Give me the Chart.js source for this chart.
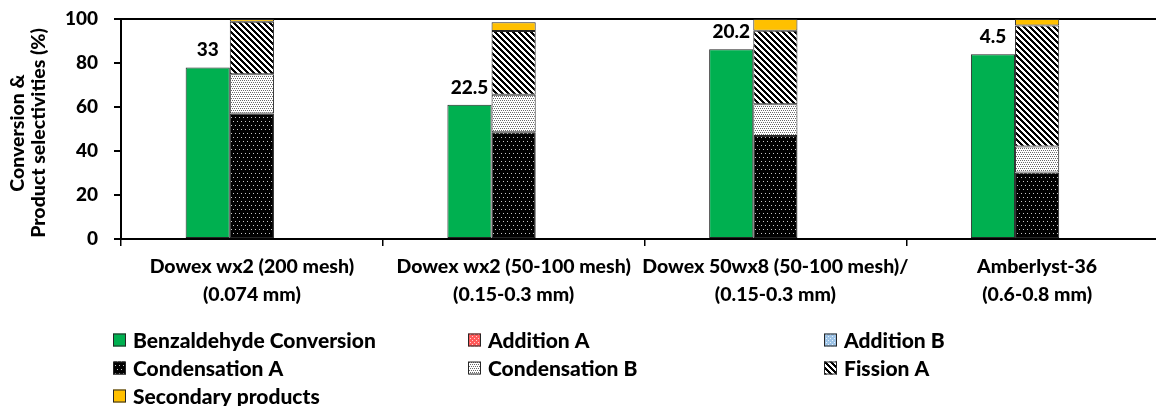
<!DOCTYPE html>
<html>
<head>
<meta charset="utf-8">
<script src="https://cdn.jsdelivr.net/npm/chart.js@4/dist/chart.umd.min.js"></script>
<style>
  html, body { margin: 0; padding: 0; background: #fff; overflow: hidden; }
  #wrap { position: relative; width: 1168px; height: 406px; }
</style>
</head>
<body>
<div id="wrap"><canvas id="chart"></canvas></div>
<script>
// Catalysts (two-line axis labels)
const categories = [
  ['Dowex wx2 (200 mesh)', '(0.074 mm)'],
  ['Dowex wx2 (50-100 mesh)', '(0.15-0.3 mm)'],
  ['Dowex 50wx8 (50-100 mesh)/', '(0.15-0.3 mm)'],
  ['Amberlyst-36', '(0.6-0.8 mm)']
];

// Benzaldehyde conversion (%)
const conversion = [78, 61, 86.2, 84];
// Product selectivities (%)
const additionA = [0, 0, 0, 0];
const additionB = [0, 0, 0, 0];
const condensationA = [57.1, 48.5, 46.8, 30.2];
const condensationB = [17.8, 17.1, 14.4, 11.8];
const fissionA = [23.9, 28.9, 33.5, 55];
const secondary = [1.2, 4.0, 5.3, 3.0];

// Values printed above the conversion bars
const conversionNotes = ['33', '22.5', '20.2', '4.5'];

const yTicks = [0, 20, 40, 60, 80, 100];
const yTitle = ['Conversion &', 'Product selectivities (%)'];

const FONT = 'Lato, "Open Sans", sans-serif';
const WEIGHT = '900';

// ---- fill patterns ----
function makePattern(size, painter) {
  const c = document.createElement('canvas');
  c.width = size; c.height = size;
  const g = c.getContext('2d');
  painter(g, size);
  return g.createPattern(c, 'repeat');
}
const patCondA = makePattern(8, (g, s) => {
  g.fillStyle = '#000'; g.fillRect(0, 0, s, s);
  g.fillStyle = '#c8c8c8';
  [[1, 1], [5, 1], [3, 5], [7, 5]].forEach(([x, y]) => g.fillRect(x, y, 1, 1));
});
const patCondB = makePattern(4, (g, s) => {
  g.fillStyle = '#fff'; g.fillRect(0, 0, s, s);
  g.fillStyle = '#6a6a6a';
  [[0, 0], [2, 0], [1, 2], [3, 2]].forEach(([x, y]) => g.fillRect(x, y, 1, 1));
});
const patFission = makePattern(6, (g, s) => {
  g.fillStyle = '#fff'; g.fillRect(0, 0, s, s);
  g.fillStyle = '#000';
  for (let y = 0; y < s; y++) for (let x = 0; x < s; x++) {
    if (((x - y) % s + s) % s < 3) g.fillRect(x, y, 1, 1);
  }
});
const patAddA = makePattern(4, (g, s) => {
  g.fillStyle = '#ff5a5a'; g.fillRect(0, 0, s, s);
  g.fillStyle = '#ffd0d0';
  [[0, 0], [2, 2]].forEach(([x, y]) => g.fillRect(x, y, 1, 1));
});
const patAddB = makePattern(4, (g, s) => {
  g.fillStyle = '#9dc3e6'; g.fillRect(0, 0, s, s);
  g.fillStyle = '#e6f0fa';
  [[0, 0], [2, 2]].forEach(([x, y]) => g.fillRect(x, y, 1, 1));
});

const EDGE = '#262626';
function barSet(label, data, fill, stack) {
  return { label, data, backgroundColor: fill, borderColor: EDGE, borderWidth: 1,
           borderSkipped: false, stack };
}

const datasets = [
  barSet('Benzaldehyde Conversion', conversion, '#00b050', 'conv'),
  barSet('Addition A', additionA, patAddA, 'sel'),
  barSet('Addition B', additionB, patAddB, 'sel'),
  barSet('Condensation A', condensationA, patCondA, 'sel'),
  barSet('Condensation B', condensationB, patCondB, 'sel'),
  barSet('Fission A', fissionA, patFission, 'sel'),
  barSet('Secondary products', secondary, '#ffc000', 'sel'),
  // empty third slot in each group
  { label: '', data: categories.map(() => 0), backgroundColor: 'rgba(0,0,0,0)',
    borderWidth: 0, stack: 'spacer' }
];
const legendCount = 7;

// Value notes above the green bars
const notesPlugin = {
  id: 'notes',
  afterDatasetsDraw(chart) {
    const ctx = chart.ctx;
    const meta = chart.getDatasetMeta(0);
    ctx.save();
    ctx.font = WEIGHT + ' 19px ' + FONT;
    ctx.fillStyle = '#000';
    ctx.textAlign = 'center';
    ctx.textBaseline = 'alphabetic';
    meta.data.forEach((bar, i) => {
      ctx.fillText(conversionNotes[i], bar.x, bar.y - 11);
    });
    ctx.restore();
  }
};

// Rotated two-line y-axis title
const yTitlePlugin = {
  id: 'yTitle',
  afterDraw(chart) {
    const ctx = chart.ctx;
    const area = chart.chartArea;
    const cy = (area.top + area.bottom) / 2 + 4;
    ctx.save();
    ctx.font = WEIGHT + ' 19.5px ' + FONT;
    ctx.fillStyle = '#000';
    ctx.textAlign = 'center';
    ctx.textBaseline = 'middle';
    [18, 39].forEach((x, i) => {
      ctx.save();
      ctx.translate(x, cy);
      ctx.rotate(-Math.PI / 2);
      ctx.fillText(yTitle[i], 0, 0);
      ctx.restore();
    });
    ctx.restore();
  }
};

// Three-column legend under the axis labels
const legendPlugin = {
  id: 'gridLegend',
  afterDraw(chart) {
    const ctx = chart.ctx;
    const colX = [113, 468, 824];
    const rowY = [340, 368, 396];
    const box = 13;
    ctx.save();
    ctx.font = WEIGHT + ' 21px ' + FONT;
    ctx.textBaseline = 'middle';
    ctx.textAlign = 'left';
    for (let i = 0; i < legendCount; i++) {
      const ds = chart.data.datasets[i];
      const x = colX[i % 3];
      const y = rowY[Math.floor(i / 3)];
      ctx.fillStyle = ds.backgroundColor;
      ctx.fillRect(x, y - box / 2, box, box);
      ctx.strokeStyle = EDGE;
      ctx.lineWidth = 1;
      ctx.strokeRect(x + 0.5, y - box / 2 + 0.5, box - 1, box - 1);
      ctx.fillStyle = '#000';
      ctx.fillText(ds.label, x + 20, y + 1);
    }
    ctx.restore();
  }
};

new Chart(document.getElementById('chart'), {
  type: 'bar',
  data: { labels: categories, datasets },
  plugins: [notesPlugin, yTitlePlugin, legendPlugin],
  options: {
    responsive: true,
    maintainAspectRatio: false,
    animation: false,
    events: [],
    categoryPercentage: 0.506,
    barPercentage: 1,
    layout: { padding: { top: 19, left: 0, right: 0, bottom: 0 } },
    plugins: { legend: { display: false }, tooltip: { enabled: false } },
    scales: {
      x: {
        stacked: true,
        offset: true,
        border: { color: '#000', width: 2 },
        grid: { offset: true, drawOnChartArea: false, color: '#000', tickColor: '#000',
                tickLength: 7, lineWidth: 1.5 },
        ticks: { color: '#000', font: { family: FONT, weight: WEIGHT, size: 19.5, lineHeight: 1.42 },
                 padding: 7, maxRotation: 0, autoSkip: false },
        afterFit(s) { s.height = 167; s.paddingLeft = 0; s.paddingRight = 0; }
      },
      y: {
        stacked: true,
        min: 0, max: 100,
        afterBuildTicks(s) { s.ticks = yTicks.map(v => ({ value: v })); },
        border: { color: '#000', width: 2 },
        grid: {
          color: c => (c.tick && c.tick.value === 100 ? '#000' : 'rgba(0,0,0,0)'),
          lineWidth: 2, tickColor: '#000', tickLength: 7
        },
        ticks: { color: '#000', font: { family: FONT, weight: WEIGHT, size: 19 }, padding: 16 },
        afterFit(s) { s.width = 121; s.paddingTop = 0; s.paddingBottom = 0; }
      }
    }
  }
});
</script>
</body>
</html>
